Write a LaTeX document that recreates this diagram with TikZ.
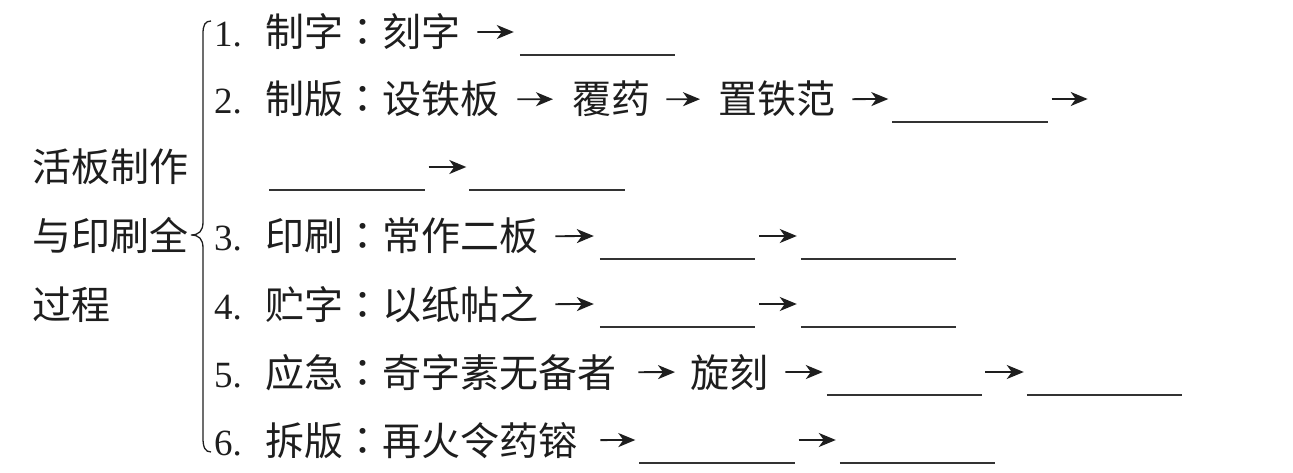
\documentclass[tikz,border=0pt]{standalone}
\usepackage{fontspec}
\setmainfont{Liberation Serif}
\newfontfamily\cjk{Noto Sans CJK SC}
\newfontfamily\cjktc{Noto Sans CJK TC}
\newcommand\zcolon{{\cjktc ：}}
\usetikzlibrary{arrows.meta}
\definecolor{ink}{HTML}{1E1E1E}
\definecolor{lineink}{HTML}{333333}
\begin{document}
\begin{tikzpicture}[x=1pt,y=-1pt,
  txt/.style={anchor=base west,inner sep=0pt,font=\cjk\fontsize{39}{42}\selectfont,text=ink},
  num/.style={anchor=base west,inner sep=0pt,font=\fontsize{37}{40}\selectfont,text=ink},
  arr/.style={-{Stealth[length=17pt,width=14pt,inset=5pt]},line width=1.8pt,draw=ink},
  blankbox/.style={inner sep=0pt,minimum width=155pt,minimum height=46pt},
  blankline/.style={line width=1.8pt,draw=lineink},
  bracestyle/.style={line width=1.3pt,draw=ink}]
\useasboundingbox (0,0) rectangle (1293,473);
% left title
\node[txt] (L1) at (32,182) {活板制作};
\node[txt] (L2) at (32,251) {与印刷全};
\node[txt] (L3) at (32,319) {过程};
% brace
\draw[bracestyle] (211,21) .. controls (205,21) and (203,25) .. (203,34) -- (203,222)
  .. controls (203,231) and (199,235) .. (191,235)
  .. controls (199,235) and (203,239) .. (203,248) -- (203,438)
  .. controls (203,447) and (205,452) .. (211,452);
% row 1
\node[num] (n1) at (214,47) {1.};
\node[txt] (t1) at (265,47) {制字\zcolon 刻字};
\node[blankbox] (b1) at (597.5,32) {};
% row 2
\node[num] (n2) at (214,114) {2.};
\node[txt] (t2a) at (265,114) {制版\zcolon 设铁板};
\node[txt] (t2b) at (572,114) {覆药};
\node[txt] (t2c) at (718,114) {置铁范};
\node[blankbox] (b2a) at (970,99) {};
\node[blankbox] (b2b) at (347,167) {};
\node[blankbox] (b2c) at (547,167) {};
% row 3
\node[num] (n3) at (214,251) {3.};
\node[txt] (t3) at (265,251) {印刷\zcolon 常作二板};
\node[blankbox] (b3a) at (677.5,236) {};
\node[blankbox] (b3b) at (878.5,236) {};
% row 4
\node[num] (n4) at (214,319) {4.};
\node[txt] (t4) at (265,319) {贮字\zcolon 以纸帖之};
\node[blankbox] (b4a) at (677.5,304) {};
\node[blankbox] (b4b) at (878.5,304) {};
% row 5
\node[num] (n5) at (214,387) {5.};
\node[txt] (t5a) at (265,387) {应急\zcolon 奇字素无备者};
\node[txt] (t5b) at (690,387) {旋刻};
\node[blankbox] (b5a) at (904.5,372) {};
\node[blankbox] (b5b) at (1104.5,372) {};
% row 6
\node[num] (n6) at (214,455) {6.};
\node[txt] (t6) at (265,455) {拆版\zcolon 再火令药镕};
\node[blankbox] (b6a) at (717,440) {};
\node[blankbox] (b6b) at (917.5,440) {};
% blank lines
\foreach \b in {b1,b2a,b2b,b2c,b3a,b3b,b4a,b4b,b5a,b5b,b6a,b6b}
  \draw[blankline] (\b.south west) -- (\b.south east);
% arrows
\draw[arr] ([xshift=17pt]t1.east) -- ([xshift=-6pt]b1.west);
\draw[arr] ([xshift=18pt]t2a.east) -- ([xshift=-19pt]t2b.west);
\draw[arr] ([xshift=16pt]t2b.east) -- ([xshift=-18pt]t2c.west);
\draw[arr] ([xshift=17pt]t2c.east) -- ([xshift=-4pt]b2a.west);
\draw[arr] ([xshift=4pt]b2a.east) -- ++(36pt,0pt);
\draw[arr] ([xshift=4pt]b2b.east) -- ([xshift=-3pt]b2c.west);
\draw[arr] ([xshift=17pt]t3.east) -- ([xshift=-6pt]b3a.west);
\draw[arr] ([xshift=4pt]b3a.east) -- ([xshift=-4pt]b3b.west);
\draw[arr] ([xshift=17pt]t4.east) -- ([xshift=-6pt]b4a.west);
\draw[arr] ([xshift=4pt]b4a.east) -- ([xshift=-4pt]b4b.west);
\draw[arr] ([xshift=22pt]t5a.east) -- ([xshift=-15pt]t5b.west);
\draw[arr] ([xshift=17pt]t5b.east) -- ([xshift=-4pt]b5a.west);
\draw[arr] ([xshift=3pt]b5a.east) -- ([xshift=-3pt]b5b.west);
\draw[arr] ([xshift=23pt]t6.east) -- ([xshift=-4pt]b6a.west);
\draw[arr] ([xshift=4pt]b6a.east) -- ([xshift=-4pt]b6b.west);
\end{tikzpicture}
\end{document}
